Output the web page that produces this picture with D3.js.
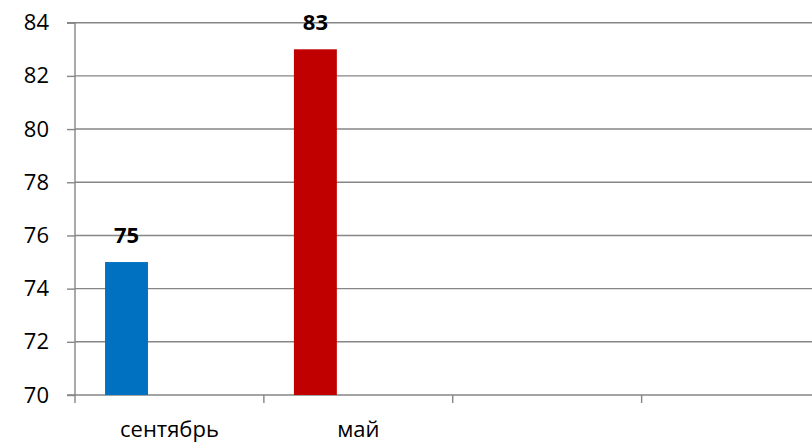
<!DOCTYPE html>
<html>
<head>
<meta charset="utf-8">
<script src="https://cdn.jsdelivr.net/npm/d3@7"></script>
<style>
  html, body { margin: 0; padding: 0; background: #fff; }
  svg { display: block; }
  text { font-family: "Open Sans", "Noto Sans", sans-serif; fill: #000; }
</style>
</head>
<body>
<svg id="chart" width="812" height="444"></svg>
<script>
const categories = ["сентябрь", "май", "", ""];
const values = [75, 83, null, null];
const barColors = ["#0070C0", "#C00000", "#0070C0", "#0070C0"];
const yTicks = [70, 72, 74, 76, 78, 80, 82, 84];

(function () {
const svg = d3.select("#chart");
const mLeft = 75, mRight = 830.5, mTop = 22.7, mBottom = 395;

const x = d3.scaleBand().domain(d3.range(categories.length)).range([mLeft, mRight]).paddingInner(0).paddingOuter(0);
const y = d3.scaleLinear().domain([70, 84]).range([mBottom, mTop]);
const inner = d3.scaleBand().domain([0, 1, 2]).range([0, x.bandwidth()]).paddingInner(0).paddingOuter(0.7);

const grid = "#868686";

// gridlines
svg.append("g").selectAll("line").data(yTicks.filter(d => d !== 70)).join("line")
  .attr("x1", mLeft).attr("x2", 812)
  .attr("y1", d => y(d)).attr("y2", d => y(d))
  .attr("stroke", grid).attr("stroke-width", 1.4);

// y axis
const yAxis = d3.axisLeft(y).tickValues(yTicks).tickSize(8).tickPadding(18).tickFormat(d3.format("d"));
const gy = svg.append("g").attr("transform", `translate(${mLeft},0)`).call(yAxis);
gy.select(".domain").attr("stroke", grid).attr("stroke-width", 1.4).attr("d", `M-8,${mTop}H0V${mBottom}H-8`);
gy.selectAll(".tick line").attr("stroke", grid).attr("stroke-width", 1.4);
gy.selectAll(".tick text").attr("font-size", 22).attr("font-family", "Open Sans").attr("fill", "#000");

// x axis
const xAxis = d3.axisBottom(x).tickSize(0).tickPadding(0).tickFormat((d) => categories[d]);
const gx = svg.append("g").attr("transform", `translate(0,${mBottom})`).call(xAxis);
gx.select(".domain").attr("stroke", grid).attr("stroke-width", 1.4).attr("d", `M${mLeft},0H812`);
gx.selectAll(".tick text").attr("font-size", 22).attr("font-family", "Open Sans").attr("fill", "#000").attr("dy", null).attr("y", 42);
// category boundary ticks
svg.append("g").selectAll("line").data(d3.range(categories.length)).join("line")
  .attr("x1", d => x(d)).attr("x2", d => x(d))
  .attr("y1", mBottom).attr("y2", mBottom + 8)
  .attr("stroke", grid).attr("stroke-width", 1.4);

// bars
const bars = categories.map((c, i) => ({ i, v: values[i] })).filter(d => d.v != null);
svg.append("g").selectAll("rect").data(bars).join("rect")
  .attr("x", d => x(d.i) + inner(0))
  .attr("width", inner.bandwidth())
  .attr("y", d => y(d.v))
  .attr("height", d => y(70) - y(d.v))
  .attr("fill", d => barColors[d.i]);

// data labels
svg.append("g").selectAll("text").data(bars).join("text")
  .attr("x", d => x(d.i) + inner(0) + inner.bandwidth() / 2)
  .attr("y", d => y(d.v) - 19)
  .attr("text-anchor", "middle")
  .attr("font-size", 22).attr("font-weight", "bold")
  .text(d => d.v);
})();
</script>
</body>
</html>
